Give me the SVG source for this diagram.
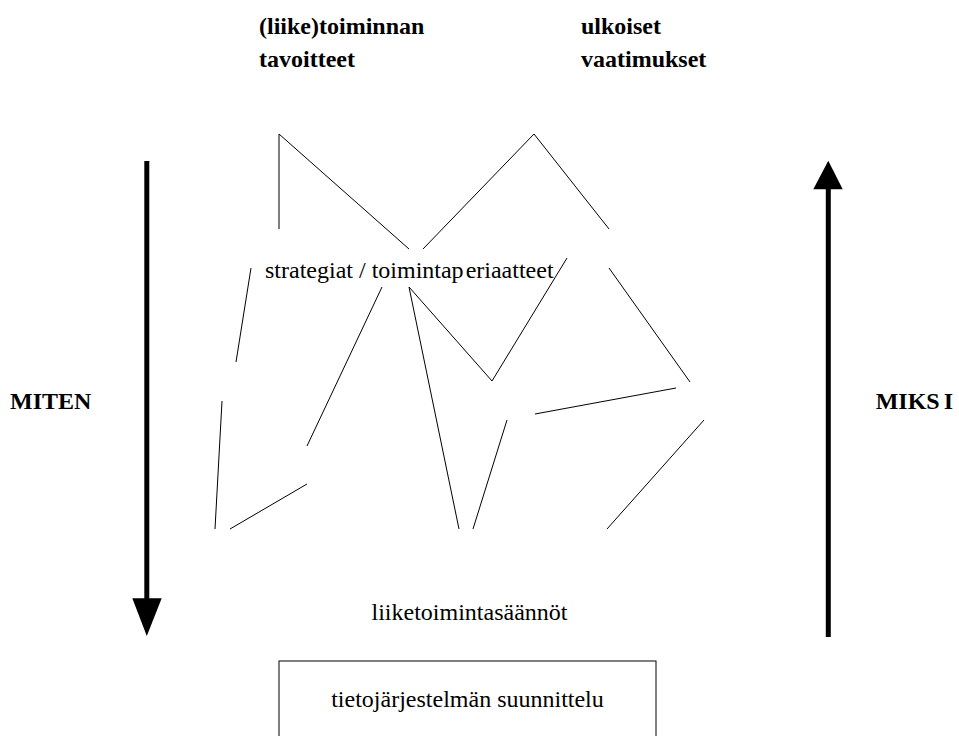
<svg xmlns="http://www.w3.org/2000/svg" width="959" height="736" viewBox="0 0 959 736">
<style>
text{font-family:'Liberation Serif','Times New Roman',Times,'DejaVu Serif',serif;font-size:24px;fill:#000}
.b{font-weight:bold}
.l{stroke:#000;stroke-width:1;fill:none}
.arr{stroke:#000;stroke-width:5;fill:none}
</style>
<rect width="959" height="736" fill="#fff"/>
<g id="goals"><text class="b" x="259" y="34">(liike)toiminnan</text><text class="b" x="259" y="67">tavoitteet</text></g>
<g id="external"><text class="b" x="581" y="34">ulkoiset</text><text class="b" x="581" y="67">vaatimukset</text></g>
<g id="strategies"><text x="265" y="278">strategiat / toimintap<tspan dx="2">eriaatteet</tspan></text></g>
<g id="rules"><text x="469.5" y="620" text-anchor="middle">liiketoimintasäännöt</text></g>
<g id="design"><rect x="279" y="661" width="377" height="90" fill="none" stroke="#000" stroke-width="1"/><text x="467.5" y="707" text-anchor="middle">tietojärjestelmän suunnittelu</text></g>
<g id="miten"><text class="b" x="10" y="409">MITEN</text><line class="arr" x1="146.8" y1="161" x2="146.8" y2="600"/><polygon points="132.3,598.3 161.7,598.3 146.8,636"/></g>
<g id="miksi"><text class="b" x="953" y="409" text-anchor="end">MIKS<tspan dx="4">I</tspan></text><line class="arr" x1="828.3" y1="637" x2="828.3" y2="188"/><polygon points="813.3,189.3 842.7,189.3 828.3,160.7"/></g>
<g id="connectors">
<polyline class="l" points="279,229 279,134 409,249"/>
<polyline class="l" points="423,249 534,134 609,229"/>
<line class="l" x1="251" y1="268" x2="236" y2="362"/>
<line class="l" x1="609" y1="268" x2="690" y2="382"/>
<polyline class="l" points="567,258 492,381 409,287 459,529"/>
<line class="l" x1="382" y1="287" x2="307" y2="446"/>
<line class="l" x1="473" y1="529" x2="507" y2="420"/>
<line class="l" x1="535" y1="414" x2="676" y2="388"/>
<line class="l" x1="704" y1="420" x2="607" y2="529"/>
<line class="l" x1="222" y1="401" x2="215" y2="529"/>
<line class="l" x1="230" y1="529" x2="307" y2="484"/>
</g>
</svg>
